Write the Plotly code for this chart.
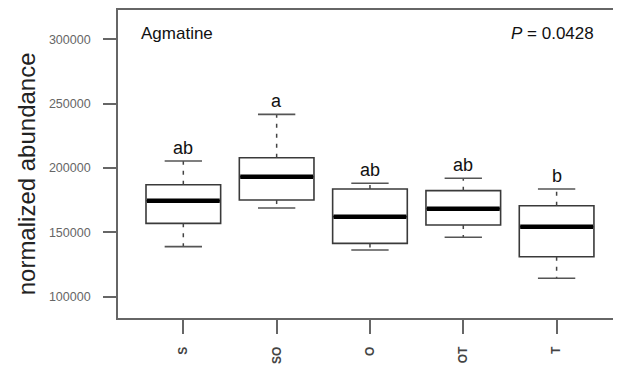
import plotly.graph_objects as go

categories = ["S", "SO", "O", "OT", "T"]
lower_whisker = [138900, 168900, 136300, 146200, 114300]
q1 = [157000, 175100, 141400, 155700, 131100]
median = [174600, 193200, 162200, 168400, 154400]
q3 = [187000, 208000, 183700, 182400, 170700]
upper_whisker = [205400, 241700, 188100, 192000, 183700]
letters = ["ab", "a", "ab", "ab", "b"]
y_ticks = [100000, 150000, 200000, 250000, 300000]

xs = list(range(len(categories)))
BOX_HALF = 0.4
CAP_HALF = 0.2
FONT = "Liberation Sans, Arial, sans-serif"

fig = go.Figure()

# box bodies
fig.add_trace(go.Box(
    x=xs, q1=q1, median=median, q3=q3,
    lowerfence=q1, upperfence=q3,
    width=2 * BOX_HALF, whiskerwidth=0,
    fillcolor="white", line=dict(color="#3a3a3a", width=1.6),
    boxpoints=False, showlegend=False, hoverinfo="skip",
))

# dashed whiskers
wx, wy = [], []
for i in xs:
    wx += [i, i, None, i, i, None]
    wy += [q3[i], upper_whisker[i], None, q1[i], lower_whisker[i], None]
fig.add_trace(go.Scatter(x=wx, y=wy, mode="lines",
                         line=dict(color="#444", width=1.5, dash="4px,6px"),
                         showlegend=False, hoverinfo="skip"))

# caps
cx, cy = [], []
for i in xs:
    cx += [i - CAP_HALF, i + CAP_HALF, None, i - CAP_HALF, i + CAP_HALF, None]
    cy += [upper_whisker[i], upper_whisker[i], None, lower_whisker[i], lower_whisker[i], None]
fig.add_trace(go.Scatter(x=cx, y=cy, mode="lines",
                         line=dict(color="#555", width=1.6),
                         showlegend=False, hoverinfo="skip"))

# thick medians
mx, my = [], []
for i in xs:
    mx += [i - BOX_HALF + 0.01, i + BOX_HALF - 0.01, None]
    my += [median[i], median[i], None]
fig.add_trace(go.Scatter(x=mx, y=my, mode="lines",
                         line=dict(color="black", width=4.5),
                         showlegend=False, hoverinfo="skip"))

# significance letters
for i in xs:
    fig.add_annotation(x=i, y=upper_whisker[i], text=letters[i], showarrow=False,
                       yanchor="bottom", yshift=1,
                       font=dict(family=FONT, size=18, color="#111"))

fig.add_annotation(xref="paper", yref="paper", x=0.042, y=0.925, text="Agmatine",
                   showarrow=False, xanchor="left", yanchor="middle",
                   font=dict(family=FONT, size=17, color="#111"))
fig.add_annotation(xref="paper", yref="paper", x=0.95, y=0.925,
                   text="<i>P</i> = 0.0428", showarrow=False,
                   xanchor="right", yanchor="middle",
                   font=dict(family=FONT, size=17, color="#111"))

# y-axis title
fig.add_annotation(xref="paper", yref="paper", x=-0.182, y=0.468,
                   text="normalized abundance", showarrow=False, textangle=-90,
                   xanchor="center", yanchor="middle",
                   font=dict(family=FONT, size=24, color="#222"))

# page body has an 8px offset, so the figure is 8px smaller on each axis
fig.update_layout(
    width=613, height=361,
    margin=dict(l=110, r=0, t=2, b=51, autoexpand=False),
    paper_bgcolor="white", plot_bgcolor="white",
    showlegend=False,
    xaxis=dict(
        range=[-0.70, 4.69], tickmode="array", tickvals=xs, ticktext=categories,
        tickangle=-90, ticks="outside", ticklen=14, tickwidth=1.5, tickcolor="#666",
        showline=True, linecolor="#666", linewidth=1.8, mirror=True,
        showgrid=False, zeroline=False, ticklabelstandoff=8, automargin=False,
        tickfont=dict(family=FONT, size=12, color="#444", weight="bold"),
    ),
    yaxis=dict(
        range=[83450, 322770], tickmode="array", tickvals=y_ticks,
        ticktext=[str(v) for v in y_ticks],
        ticks="outside", ticklen=13, tickwidth=1.5, tickcolor="#666",
        showline=True, linecolor="#666", linewidth=1.8,
        showgrid=False, zeroline=False, ticklabelstandoff=10, automargin=False,
        tickfont=dict(family=FONT, size=12.5, color="#666"),
    ),
)

fig.write_html("out.html")
